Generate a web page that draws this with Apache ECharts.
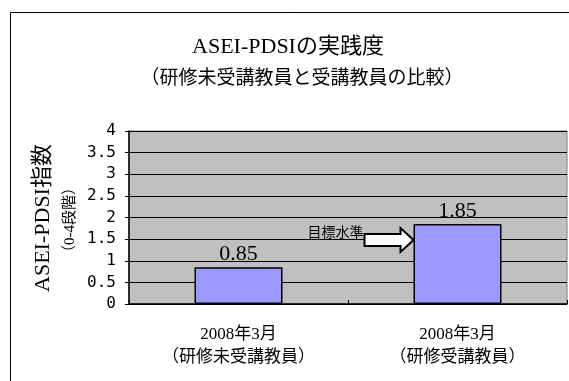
<!DOCTYPE html>
<html>
<head>
<meta charset="utf-8">
<script src="https://cdn.jsdelivr.net/npm/echarts@6/dist/echarts.min.js"></script>
<style>
  html, body { margin: 0; padding: 0; background: #fff; }
  #chart { width: 569px; height: 381px; }
</style>
</head>
<body>
<div id="chart"></div>
<script>
// Category labels (two lines each) and the index values per group
const categories = ['2008年3月\n（研修未受講教員）', '2008年3月\n（研修受講教員）'];
const values = [0.85, 1.85];
const yTicks = [0, 0.5, 1, 1.5, 2, 2.5, 3, 3.5, 4];
// Level that the "目標水準" arrow points at on the second bar
const targetLevel = 1.48;

const MINCHO = '"Liberation Serif", "Noto Sans CJK JP", serif';
const BAR_W = 88;

const chart = echarts.init(document.getElementById('chart'), null, { renderer: 'canvas' });

chart.setOption({
  backgroundColor: '#ffffff',
  animation: false,
  title: [
    {
      text: 'ASEI-PDSIの実践度',
      left: 283, top: 31, textAlign: 'center',
      textStyle: { fontFamily: MINCHO, fontSize: 22, fontWeight: 'normal', color: '#000' }
    },
    {
      text: '（研修未受講教員と受講教員の比較）',
      left: 297, top: 65, textAlign: 'center',
      textStyle: { fontFamily: MINCHO, fontSize: 19, fontWeight: 'normal', color: '#000' }
    }
  ],
  grid: {
    left: 129, top: 131, right: 2, bottom: 77,
    show: true, backgroundColor: '#c0c0c0', borderColor: '#808080', borderWidth: 1
  },
  xAxis: {
    type: 'category',
    data: categories,
    axisLine: { lineStyle: { color: '#000', width: 1.5 } },
    axisTick: { show: true, inside: true, length: 4, lineStyle: { color: '#000' } },
    axisLabel: {
      margin: 19,
      lineHeight: 23,
      fontFamily: MINCHO, fontSize: 17, color: '#000'
    }
  },
  yAxis: {
    type: 'value',
    min: 0, max: 4, interval: 0.5,
    axisLine: { show: true, lineStyle: { color: '#000', width: 1.5 } },
    axisTick: { show: true, length: 4, lineStyle: { color: '#000' } },
    axisLabel: {
      margin: 13,
      fontFamily: '"DejaVu Sans Mono", monospace', fontSize: 16, color: '#000',
      formatter: v => (yTicks.indexOf(v) >= 0 ? String(v) : '')
    },
    splitLine: { show: true, lineStyle: { color: '#000', width: 1 } }
  },
  series: [{
    type: 'bar',
    data: values,
    barWidth: BAR_W,
    itemStyle: { color: '#9999ff', borderColor: '#000', borderWidth: 1.5 },
    label: {
      show: true, position: 'top', distance: 2,
      fontFamily: MINCHO, fontSize: 22, color: '#000',
      formatter: p => p.value.toFixed(2)
    }
  }]
});

// Block arrow pointing at the second bar's left edge at the target level
const tip = chart.convertToPixel({ xAxisIndex: 0, yAxisIndex: 0 }, [1, targetLevel]);
const tx = tip[0] - BAR_W / 2;
const ty = tip[1];
const tail = tx - 49, neck = tx - 13, bodyH = 6, headH = 12;

chart.setOption({
  graphic: [
    // outer chart frame
    {
      id: 'frame', type: 'rect', silent: true, z: -10,
      shape: { x: 10.5, y: 12.5, width: 620, height: 420 },
      style: { fill: 'none', stroke: '#000', lineWidth: 1 }
    },
    // y-axis title, two rotated lines
    {
      id: 'yname', type: 'text', x: 43, y: 218, rotation: Math.PI / 2,
      style: {
        text: 'ASEI-PDSI指数', fontFamily: MINCHO, fontSize: 22, fill: '#000',
        align: 'center', verticalAlign: 'middle'
      }
    },
    {
      id: 'ysub', type: 'text', x: 70, y: 220, rotation: Math.PI / 2,
      style: {
        text: '（0-4段階）', fontFamily: MINCHO, fontSize: 15, fill: '#000',
        align: 'center', verticalAlign: 'middle'
      }
    },
    {
      id: 'targetText', type: 'text', x: tail - 1, y: ty - 8,
      style: {
        text: '目標水準', fontFamily: '"Noto Sans CJK JP", sans-serif', fontSize: 14, fill: '#000',
        align: 'right', verticalAlign: 'middle'
      }
    },
    {
      id: 'targetArrow', type: 'polygon', z: 100,
      shape: {
        points: [
          [tail, ty - bodyH], [neck, ty - bodyH], [neck, ty - headH], [tx, ty],
          [neck, ty + headH], [neck, ty + bodyH], [tail, ty + bodyH]
        ]
      },
      style: { fill: '#fff', stroke: '#000', lineWidth: 2 }
    }
  ]
});
</script>
</body>
</html>
